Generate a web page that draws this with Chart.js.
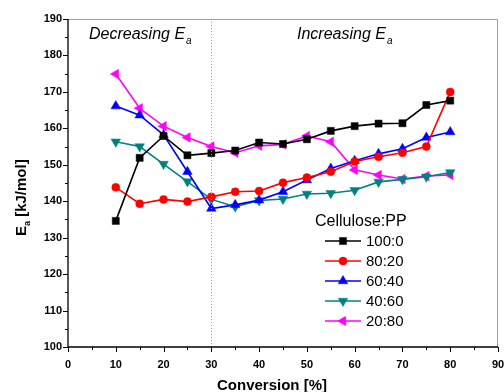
<!DOCTYPE html>
<html><head><meta charset="utf-8">
<script src="https://cdn.jsdelivr.net/npm/chart.js@4"></script>
<style>html,body{margin:0;padding:0;background:#fff}#c{display:block}</style>
</head><body>
<div style="width:504px;height:392px"><canvas id="c" width="504" height="392"></canvas></div>
<script>
const conversion = [10,15,20,25,30,35,40,45,50,55,60,65,70,75,80];
const s100_0 = [134.6,151.9,157.9,152.6,153.2,153.9,156.1,155.7,157.0,159.3,160.6,161.3,161.4,166.4,167.6];
const s80_20 = [143.8,139.3,140.5,139.9,141.2,142.6,142.8,145.1,146.5,148.1,150.9,152.2,153.3,155.0,170.0];
const s60_40 = [166.1,163.6,158.2,148.1,138.0,139.0,140.3,142.6,145.8,149.0,151.1,153.0,154.4,157.5,159.0];
const s40_60 = [156.3,155.0,150.2,145.4,140.5,138.5,140.2,140.6,142.0,142.2,143.0,145.3,146.0,146.7,147.9];
const s20_80 = [174.9,165.5,160.6,157.5,155.0,153.3,155.2,155.6,157.9,156.3,148.6,147.2,146.1,146.9,147.2];
const seriesNames = ['100:0','80:20','60:40','40:60','20:80'];
const xTicks = [0,10,20,30,40,50,60,70,80,90];
const yTicks = [100,110,120,130,140,150,160,170,180,190];

const colors = ['#000000','#ff0000','#0000ff','#008080','#ff00ff'];
const shapes = ['rect','circle','triangle','triangle','triangle'];
const rotations = [0,0,0,180,-90];
const radii = [5,4,5.5,5.5,5.5];
const allSeries = [s100_0,s80_20,s60_40,s40_60,s20_80];

const datasets = allSeries.map((s,i)=>({
  label: seriesNames[i],
  data: conversion.map((x,j)=>({x:x,y:s[j]})),
  borderColor: colors[i], backgroundColor: colors[i],
  borderWidth: 1.6, pointStyle: shapes[i], pointRotation: rotations[i],
  pointRadius: radii[i], pointBorderWidth: 0.5, tension: 0
}));

const deco = {
  id:'deco',
  afterDraw(chart){
    const ctx = chart.ctx, a = chart.chartArea;
    const xs = chart.scales.x, ys = chart.scales.y;
    ctx.save();
    ctx.strokeStyle='#a0a0a0'; ctx.lineWidth=1; ctx.setLineDash([1,2]);
    const px30 = Math.round(xs.getPixelForValue(30))+0.5;
    ctx.beginPath(); ctx.moveTo(px30,a.top); ctx.lineTo(px30,a.bottom); ctx.stroke();
    ctx.setLineDash([]);
    ctx.strokeStyle='#a0a0a0'; ctx.lineWidth=1;
    ctx.beginPath(); ctx.moveTo(a.left,a.top+0.5); ctx.lineTo(a.right-0.5,a.top+0.5); ctx.lineTo(a.right-0.5,a.bottom); ctx.stroke();
    ctx.strokeStyle='#000'; ctx.lineWidth=1.3;
    ctx.beginPath(); ctx.moveTo(a.left,a.top); ctx.lineTo(a.left,a.bottom); ctx.lineTo(a.right,a.bottom); ctx.stroke();
    ctx.lineWidth=1;
    for(let v=0; v<=90; v+=5){
      const p = Math.round(xs.getPixelForValue(v))+0.5;
      const L = (v%10===0)?5:3;
      ctx.beginPath(); ctx.moveTo(p,a.bottom); ctx.lineTo(p,a.bottom+L); ctx.stroke();
    }
    for(let v=100; v<=190; v+=5){
      const p = Math.round(ys.getPixelForValue(v))+0.5;
      const L = (v%10===0)?5:3;
      ctx.beginPath(); ctx.moveTo(a.left,p); ctx.lineTo(a.left-L,p); ctx.stroke();
    }
    ctx.fillStyle='#000';
    ctx.textBaseline='alphabetic'; ctx.textAlign='left';
    function sub(txt,x,y){
      ctx.font='italic 16px "Liberation Sans", Arial, sans-serif';
      ctx.fillText(txt,x,y);
      const w = ctx.measureText(txt).width;
      ctx.font='italic 10px "Liberation Sans", Arial, sans-serif';
      ctx.fillText('a',x+w+1,y+5);
    }
    sub('Decreasing E',89,39);
    sub('Increasing E',297,39);
    ctx.font='bold 15px "Liberation Sans", Arial, sans-serif';
    ctx.textAlign='center'; ctx.textBaseline='alphabetic';
    ctx.fillText('Conversion [%]', 272, 390);
    ctx.save();
    ctx.translate(26, 196); ctx.rotate(-Math.PI/2);
    ctx.textAlign='left';
    ctx.font='bold 15px "Liberation Sans", Arial, sans-serif';
    const wE = ctx.measureText('E').width;
    ctx.fillText('E',-40,0);
    ctx.font='bold 9px "Liberation Sans", Arial, sans-serif';
    ctx.fillText('a',-40+wE,4);
    const wa = ctx.measureText('a').width;
    ctx.font='bold 15px "Liberation Sans", Arial, sans-serif';
    ctx.fillText(' [kJ/mol]',-40+wE+wa,0);
    ctx.restore();
    ctx.textAlign='left'; ctx.textBaseline='middle';
    ctx.font='16px "Liberation Sans", Arial, sans-serif';
    ctx.fillText('Cellulose:PP',315,222);
    ctx.font='15px "Liberation Sans", Arial, sans-serif';
    chart.data.datasets.forEach((d,i)=>{
      const y = 241 + i*20;
      ctx.strokeStyle=d.borderColor; ctx.lineWidth=1.6;
      ctx.beginPath(); ctx.moveTo(325,y); ctx.lineTo(361,y); ctx.stroke();
      ctx.fillStyle=d.backgroundColor; ctx.strokeStyle=d.borderColor; ctx.lineWidth=0.5;
      Chart.helpers.drawPoint(ctx,{pointStyle:d.pointStyle,rotation:d.pointRotation,radius:d.pointRadius,borderWidth:0.5},343,y);
      ctx.fillStyle='#000';
      ctx.fillText(d.label,366,y+1);
    });
    ctx.restore();
  }
};

new Chart(document.getElementById('c'),{
  type:'line',
  data:{datasets:datasets},
  options:{
    responsive:false, animation:false, devicePixelRatio:1,
    layout:{padding:{left:0,right:4,top:19,bottom:0}},
    plugins:{legend:{display:false},tooltip:{enabled:false}},
    scales:{
      x:{type:'linear',min:0,max:90,
        afterBuildTicks(s){ s.ticks = xTicks.map(v=>({value:v})); },
        afterFit(s){ s.height = 45; s.paddingLeft = 0; s.paddingRight = 0; },
        grid:{display:true,drawOnChartArea:false,drawTicks:false,color:'rgba(0,0,0,0)'},
        border:{display:false},
        ticks:{padding:11,color:'#000',font:{family:'"Liberation Sans", Arial, sans-serif',size:11,weight:'bold'},maxRotation:0}
      },
      y:{type:'linear',min:100,max:190,
        afterBuildTicks(s){ s.ticks = yTicks.map(v=>({value:v})); },
        afterFit(s){ s.width = 68; s.paddingTop = 0; s.paddingBottom = 0; },
        grid:{display:true,drawOnChartArea:false,drawTicks:false,color:'rgba(0,0,0,0)'},
        border:{display:false},
        ticks:{padding:6,color:'#000',font:{family:'"Liberation Sans", Arial, sans-serif',size:11,weight:'bold'}}
      }
    }
  },
  plugins:[deco]
});
</script>
</body></html>
